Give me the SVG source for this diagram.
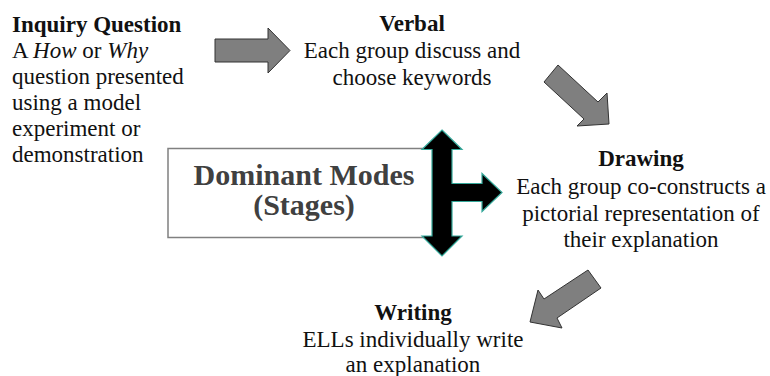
<svg xmlns="http://www.w3.org/2000/svg" width="770" height="376" viewBox="0 0 770 376">
  <style>
    .t { font-family: "Liberation Serif", "Times New Roman", serif; font-size: 23px; fill: #111; }
    .b { font-weight: bold; }
    .c { text-anchor: middle; }
    .blk { fill: #7f7f7f; stroke: #333; stroke-width: 1; stroke-linejoin: miter; }
    .dom { font-family: "Liberation Serif", "Times New Roman", serif; font-size: 30px; font-weight: bold; fill: #404040; text-anchor: middle; }
  </style>

  <rect width="770" height="376" fill="#ffffff"/>

  <!-- flow arrows between the stages -->
  <g id="connectors">
    <polygon class="blk" points="215,39 268,39 268,28 290,50.5 268,73 268,62 215,62"/>
    <polygon class="blk" points="544,82 558,65 598,102 607,93 609,124 577,126 584,119"/>
    <polygon class="blk" points="588,270 601,288 557,318 562,328 530,322 538,290 544,299"/>
  </g>

  <g id="inquiry">
    <text class="t b" x="12" y="32">Inquiry Question</text>
    <text class="t" x="12" y="58">A <tspan font-style="italic">How</tspan> or <tspan font-style="italic">Why</tspan></text>
    <text class="t" x="12" y="84">question presented</text>
    <text class="t" x="12" y="110">using a model</text>
    <text class="t" x="12" y="136">experiment or</text>
    <text class="t" x="12" y="162">demonstration</text>
  </g>

  <g id="verbal">
    <text class="t b c" x="412" y="31">Verbal</text>
    <text class="t c" x="412" y="58">Each group discuss and</text>
    <text class="t c" x="412" y="85">choose keywords</text>
  </g>

  <g id="drawing">
    <text class="t b c" x="641" y="166">Drawing</text>
    <text class="t c" x="641" y="194">Each group co-constructs a</text>
    <text class="t c" x="641" y="221">pictorial representation of</text>
    <text class="t c" x="641" y="247">their explanation</text>
  </g>

  <g id="writing">
    <text class="t b c" x="413" y="320">Writing</text>
    <text class="t c" x="413" y="347">ELLs individually write</text>
    <text class="t c" x="413" y="372">an explanation</text>
  </g>

  <g id="dominant-modes">
    <rect x="168" y="148.5" width="266" height="89" fill="#ffffff" stroke="#808080" stroke-width="1.5"/>
    <text class="dom" x="304" y="185">Dominant Modes</text>
    <text class="dom" x="304" y="215">(Stages)</text>
    <polygon fill="#000" stroke="#35a89a" stroke-width="1.2"
      points="442,130 462,149.5 452,149.5 452,183.5 482,183.5 482,173.5 502,192.5 482,211.5 482,201.5 452,201.5 452,236 462,236 442,256 422,236 432,236 432,149.5 422,149.5"/>
  </g>
</svg>
